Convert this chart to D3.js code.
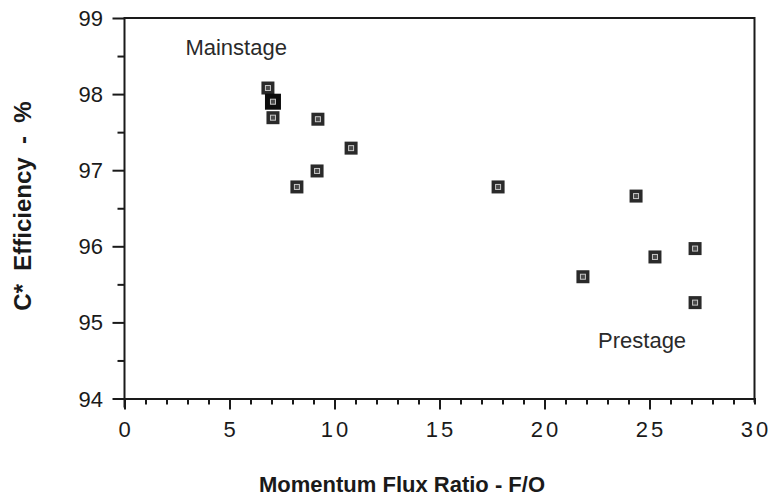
<!DOCTYPE html>
<html><head><meta charset="utf-8">
<script src="https://cdn.jsdelivr.net/npm/d3@7"></script>
<style>body{margin:0;background:#fff}svg{display:block}</style>
</head><body>
<script>
const xValues = [6.83, 7.07, 7.07, 9.21, 10.79, 9.17, 8.21, 17.79, 24.36, 25.26, 27.17, 21.83, 27.17];
const yValues = [98.08, 97.90, 97.69, 97.67, 97.29, 96.99, 96.78, 96.78, 96.66, 95.86, 95.97, 95.60, 95.26];
const bold = [false, true, false, false, false, false, false, false, false, false, false, false, false];
const xTicks = [0, 5, 10, 15, 20, 25, 30];
const yTicks = [94, 95, 96, 97, 98, 99];
const annotations = [{text: "Mainstage", x: 2.9, y: 98.52}, {text: "Prestage", x: 22.55, y: 94.67}];

const W = 770, H = 498;
const svg = d3.select("body").append("svg").attr("width", W).attr("height", H);
const x = d3.scaleLinear().domain([0, 30]).range([124.5, 754.5]);
const y = d3.scaleLinear().domain([94, 99]).range([398.5, 18]);
const ink = "#1a1a1a";
const font = "'Liberation Sans', Arial, Helvetica, sans-serif";

// frame top and right
svg.append("line").attr("x1", x(0)).attr("x2", x(30)).attr("y1", y(99)).attr("y2", y(99))
  .attr("stroke", ink).attr("stroke-width", 2);
svg.append("line").attr("x1", x(30)).attr("x2", x(30)).attr("y1", y(99) - 1).attr("y2", y(94) + 4)
  .attr("stroke", ink).attr("stroke-width", 2);

// x axis
const xAxis = d3.axisBottom(x).tickValues(d3.range(0, 30, 1)).tickSizeOuter(0)
  .tickSize(6).tickFormat("");
const gx = svg.append("g").attr("transform", `translate(0,${y(94)})`).call(xAxis);
gx.selectAll("line").attr("stroke", ink).attr("stroke-width", 2)
  .attr("y2", d => d % 5 === 0 ? 11 : 6);
gx.select(".domain").attr("stroke", ink).attr("stroke-width", 2);
svg.append("g").selectAll("text").data(xTicks).join("text")
  .attr("x", d => x(d) + (d >= 10 ? 1.5 : 0)).attr("y", 437)
  .attr("text-anchor", "middle").attr("font-family", font).attr("font-size", 22)
  .attr("letter-spacing", d => d >= 10 ? "3px" : "0px")
  .attr("fill", ink).text(d => d);

// y axis
const yAxis = d3.axisLeft(y).tickValues(d3.range(94, 99.01, 0.5)).tickSizeOuter(0)
  .tickSize(7).tickFormat("");
const gy = svg.append("g").attr("transform", `translate(${x(0)},0)`).call(yAxis);
gy.selectAll("line").attr("stroke", ink).attr("stroke-width", 2)
  .attr("x2", d => Math.abs(d - Math.round(d)) < 0.01 ? -12 : -7);
gy.select(".domain").attr("stroke", ink).attr("stroke-width", 2)
  .attr("d", `M0,${y(99) - 1}V${y(94) + 9}`);
svg.append("g").selectAll("text").data(yTicks).join("text")
  .attr("x", 103).attr("y", d => y(d) + 8)
  .attr("text-anchor", "end").attr("font-family", font).attr("font-size", 22)
  .attr("fill", ink).text(d => d);

// titles
svg.append("text").attr("x", 402).attr("y", 492).attr("text-anchor", "middle")
  .attr("font-family", font).attr("font-weight", "bold").attr("font-size", 22)
  .attr("fill", ink).text("Momentum Flux Ratio - F/O");
svg.append("text").attr("transform", "translate(31,206) rotate(-90)").attr("text-anchor", "middle")
  .attr("font-family", font).attr("font-weight", "bold").attr("font-size", 24)
  .attr("fill", ink).style("white-space", "pre")
  .text("C*  Efficiency  -  %");

// annotations
svg.append("g").selectAll("text").data(annotations).join("text")
  .attr("x", d => x(d.x)).attr("y", d => y(d.y))
  .attr("font-family", font).attr("font-size", 22).attr("fill", "#2a2a2a").text(d => d.text);

// markers
const pts = xValues.map((v, i) => ({x: v, y: yValues[i], b: bold[i]}));
const g = svg.append("g").selectAll("g").data(pts).join("g")
  .attr("transform", d => `translate(${x(d.x)},${y(d.y)})`);
g.append("rect").attr("x", d => d.b ? -8 : -6.5).attr("y", d => d.b ? -8 : -6.5)
  .attr("width", d => d.b ? 16 : 13).attr("height", d => d.b ? 16 : 13)
  .attr("fill", d => d.b ? "#0d0d0d" : "#2a2a2a");
g.append("rect").attr("x", -2.5).attr("y", -2.5).attr("width", 5).attr("height", 5)
  .attr("fill", "#4a4a4a").attr("stroke", "#c8c8c8").attr("stroke-width", 1);
</script>
</body></html>
